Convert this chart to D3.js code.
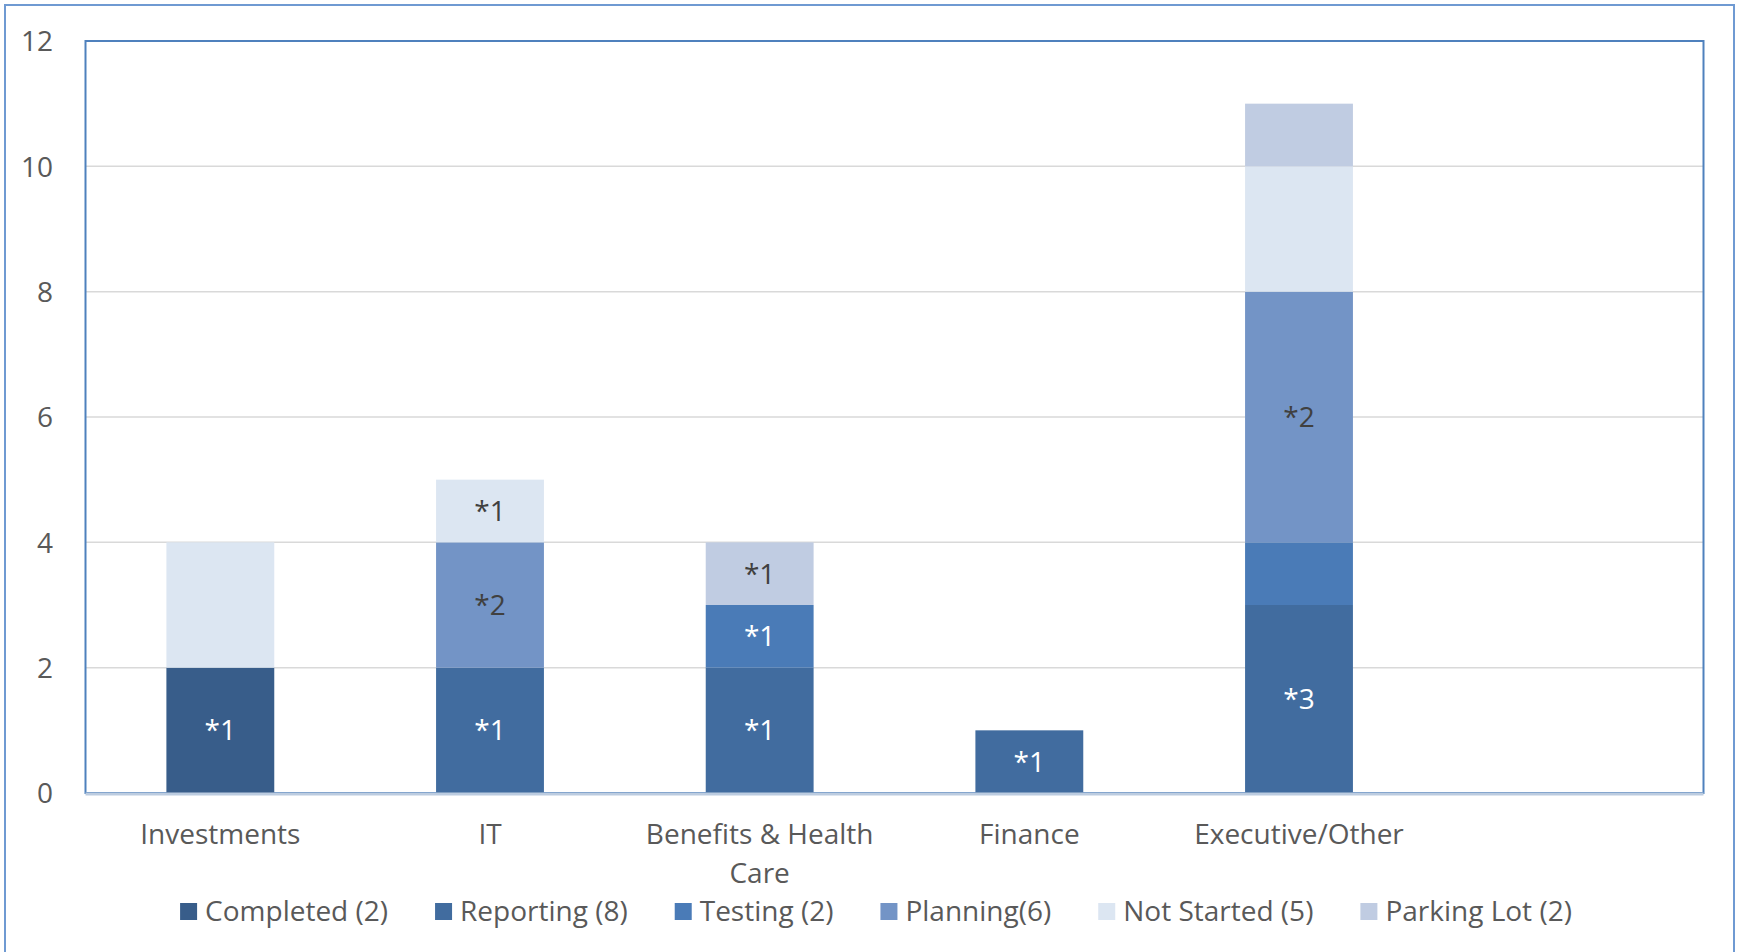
<!DOCTYPE html>
<html>
<head>
<meta charset="utf-8">
<script src="https://cdn.jsdelivr.net/npm/d3@7"></script>
<style>
  html, body { margin: 0; padding: 0; background: #fff; }
  svg { display: block; }
  text { font-family: "Open Sans", sans-serif; }
</style>
</head>
<body>
<svg id="chart" width="1740" height="952"></svg>
<script>
// ---- data ----
const categories = ["Investments", "IT", "Benefits & Health Care", "Finance", "Executive/Other", ""];
const seriesNames = ["Completed (2)", "Reporting (8)", "Testing (2)", "Planning(6)", "Not Started (5)", "Parking Lot (2)"];
const completed  = [2, 0, 0, 0, 0, 0];
const reporting  = [0, 2, 2, 1, 3, 0];
const testing    = [0, 0, 1, 0, 1, 0];
const planning   = [0, 2, 0, 0, 4, 0];
const notStarted = [2, 1, 0, 0, 2, 0];
const parkingLot = [0, 0, 1, 0, 1, 0];
// segment labels shown on the bars
const completedLabels  = ["*1", "", "", "", "", ""];
const reportingLabels  = ["", "*1", "*1", "*1", "*3", ""];
const testingLabels    = ["", "", "*1", "", "", ""];
const planningLabels   = ["", "*2", "", "", "*2", ""];
const notStartedLabels = ["", "*1", "", "", "", ""];
const parkingLotLabels = ["", "", "*1", "", "", ""];
const yTicks = [0, 2, 4, 6, 8, 10, 12];

const seriesValues = [completed, reporting, testing, planning, notStarted, parkingLot];
const seriesLabels = [completedLabels, reportingLabels, testingLabels, planningLabels, notStartedLabels, parkingLotLabels];
const colors = ["#385D8A", "#416C9F", "#4A7BB7", "#7394C6", "#DCE6F2", "#C0CCE2"];
const labelColors = ["#ffffff", "#ffffff", "#ffffff", "#404040", "#404040", "#404040"];

const FONT = '"Open Sans", sans-serif';
const FS = 28;

// ---- layout ----
const svg = d3.select("#chart");
const plot = { left: 85.5, right: 1703.5, top: 41, bottom: 793 };

const x = d3.scaleBand().domain(d3.range(categories.length))
  .range([plot.left, plot.right]).paddingInner(0.6).paddingOuter(0.3);
const y = d3.scaleLinear().domain([0, 12]).range([plot.bottom, plot.top]);

// outer chart border
svg.append("rect").attr("x", 5).attr("y", 5).attr("width", 1729).attr("height", 980)
  .attr("fill", "none").attr("stroke", "#6F9AD2").attr("stroke-width", 2);

// gridlines
svg.append("g").selectAll("line").data(yTicks.filter(d => d > 0)).join("line")
  .attr("x1", plot.left).attr("x2", plot.right)
  .attr("y1", d => y(d)).attr("y2", d => y(d))
  .attr("stroke", "#D9D9D9").attr("stroke-width", 1.5);

// plot area frame
svg.append("rect").attr("x", plot.left).attr("y", plot.top)
  .attr("width", plot.right - plot.left).attr("height", plot.bottom - plot.top)
  .attr("fill", "none").attr("stroke", "#4F81BD").attr("stroke-width", 2);

// stacked data
const stackData = categories.map((c, i) => {
  const o = { i };
  seriesValues.forEach((s, k) => o[k] = s[i]);
  return o;
});
const stack = d3.stack().keys(d3.range(seriesValues.length));
const layers = stack(stackData);

const gBars = svg.append("g");
layers.forEach((layer, k) => {
  const g = gBars.append("g");
  g.selectAll("rect").data(layer.filter(d => d[1] > d[0])).join("rect")
    .attr("x", d => x(d.data.i))
    .attr("width", x.bandwidth())
    .attr("y", d => y(d[1]))
    .attr("height", d => y(d[0]) - y(d[1]))
    .attr("fill", colors[k]);
});
layers.forEach((layer, k) => {
  svg.append("g").selectAll("text")
    .data(layer.filter(d => d[1] > d[0] && seriesLabels[k][d.data.i]))
    .join("text")
    .attr("x", d => x(d.data.i) + x.bandwidth() / 2)
    .attr("y", d => (y(d[0]) + y(d[1])) / 2)
    .attr("dy", "0.36em")
    .attr("text-anchor", "middle")
    .attr("font-size", FS)
    .attr("fill", labelColors[k])
    .text(d => seriesLabels[k][d.data.i]);
});

// x axis line
svg.append("line").attr("x1", plot.left).attr("x2", plot.right)
  .attr("y1", plot.bottom + 1).attr("y2", plot.bottom + 1)
  .attr("stroke", "#BCCCE0").attr("stroke-width", 3);

// y axis labels
const yAxis = d3.axisLeft(y).tickValues(yTicks).tickSize(0).tickPadding(0);
const gy = svg.append("g").attr("transform", "translate(53,1)").call(yAxis);
gy.select(".domain").remove();
gy.selectAll("text").attr("font-size", FS).attr("fill", "#595959")
  .style("font-family", FONT);

// x axis labels with wrapping
const LY = 51;
const xAxis = d3.axisBottom(x).tickFormat(i => categories[i]).tickSize(0).tickPadding(0);
const gx = svg.append("g").attr("transform", `translate(0,${plot.bottom})`).call(xAxis);
gx.select(".domain").remove();
gx.selectAll("text").attr("font-size", FS).attr("fill", "#595959")
  .style("font-family", FONT)
  .attr("y", LY).attr("dy", 0)
  .each(function(i) {
    const t = d3.select(this);
    const words = categories[i].split(" ");
    t.text(null);
    let line = [], lineNo = 0;
    let tspan = t.append("tspan").attr("x", 0).attr("y", LY);
    const maxW = x.step() * 0.9;
    words.forEach(w => {
      line.push(w);
      tspan.text(line.join(" "));
      if (tspan.node().getComputedTextLength() > maxW && line.length > 1) {
        line.pop();
        tspan.text(line.join(" "));
        line = [w];
        lineNo++;
        tspan = t.append("tspan").attr("x", 0).attr("y", LY + lineNo * 39).text(w);
      }
    });
  });

// legend
const legend = svg.append("g");
const items = legend.selectAll("g").data(seriesNames).join("g");
items.append("rect").attr("width", 17).attr("height", 17).attr("y", -18)
  .attr("fill", (d, k) => colors[k]);
items.append("text").attr("x", 25).attr("y", 0).attr("font-size", FS)
  .attr("fill", "#595959").text(d => d);
let cx = 0;
const gap = 47;
items.each(function() {
  const g = d3.select(this);
  g.attr("transform", `translate(${cx},0)`);
  cx += 25 + g.select("text").node().getComputedTextLength() + gap;
});
const totalW = cx - gap;
legend.attr("transform", `translate(${876 - totalW / 2},921)`);
</script>
</body>
</html>
